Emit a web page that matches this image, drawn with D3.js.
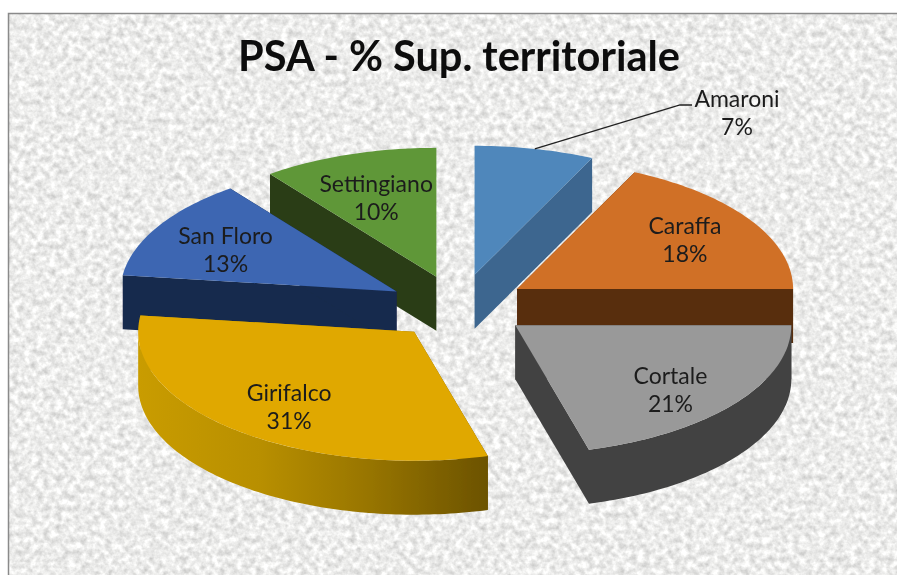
<!DOCTYPE html>
<html>
<head>
<meta charset="utf-8">
<script src="https://cdn.jsdelivr.net/npm/d3@7/dist/d3.min.js"></script>
<style>
html,body{margin:0;padding:0;background:#fff;overflow:hidden}
svg{display:block}
text{font-family:Lato,"Open Sans",sans-serif}
</style>
</head>
<body>
<svg id="chart" width="897" height="575"></svg>
<script>
// ---- data ----
const chartTitle = "PSA - % Sup. territoriale";
const categories = ["Amaroni", "Caraffa", "Cortale", "Girifalco", "San Floro", "Settingiano"];
const shares = [7, 18, 20.7, 31.3, 12.7, 10.3];

// ---- styles / layout ----
const topColors  = ["#4f87bb", "#d07028", "#999999", "#e0a800", "#3c66b2", "#5f9739"];
const sideColors = ["#3c668f", "#592d10", "#434343", "url(#giriSide)", "#172a4d", "#2a3e18"];
const explode    = [76, 70, 72, 67, 71, 68];
const sliceDy    = [1.5, -1.5, -3, 0, 0, -1];
const labelDx    = [0, 0, -3, 5, 1, 3];
const labelDy    = [0, -3, 4, 1, 1, 5];
const drawOrder  = [0, 5, 4, 1, 2, 3];
const W = 897, H = 575, cx = 458, cy = 308, rx = 276, ry = 129, depth = 54;
const labelRadius = 0.72, labelDrop = 4;

const svg = d3.select("#chart");
const defs = svg.append("defs");

const marble = defs.append("filter").attr("id", "marble")
  .attr("x", 0).attr("y", 0).attr("width", 1).attr("height", 1)
  .attr("color-interpolation-filters", "sRGB");
marble.append("feTurbulence").attr("type", "fractalNoise")
  .attr("baseFrequency", 0.16).attr("numOctaves", 3).attr("seed", 7);
marble.append("feColorMatrix").attr("type", "matrix")
  .attr("values", "0.34 0 0 0 0.755  0.34 0 0 0 0.755  0.34 0 0 0 0.75  0 0 0 0 1");

const soft = defs.append("filter").attr("id", "soft")
  .attr("x", "-5%").attr("y", "-5%").attr("width", "110%").attr("height", "110%");
soft.append("feGaussianBlur").attr("stdDeviation", 0.45);

const grad = defs.append("linearGradient").attr("id", "giriSide")
  .attr("gradientUnits", "userSpaceOnUse")
  .attr("x1", 138).attr("x2", 487).attr("y1", 0).attr("y2", 0);
[[0, "#c99c00"], [0.35, "#b88f00"], [0.65, "#997600"], [1, "#6c5300"]].forEach(([o, c]) =>
  grad.append("stop").attr("offset", o).attr("stop-color", c));

// background
svg.append("rect").attr("x", 8).attr("y", 13).attr("width", W - 8).attr("height", H - 13)
  .attr("filter", "url(#marble)");
svg.append("path").attr("d", `M8.5,${H}V13.5H${W}`).attr("fill", "none")
  .attr("stroke", "#8a8a8a").attr("stroke-width", 1.5);

// scales: unit circle -> flattened pie plane
const sx = d3.scaleLinear().domain([-1, 1]).range([-rx, rx]);
const sy = d3.scaleLinear().domain([-1, 1]).range([ry, -ry]);
const pct = d3.format(".0f");

const pieGen = d3.pie().sort(null).value(d => d);
const arcs = pieGen(shares).map((a, i) => {
  const mid = (a.startAngle + a.endAngle) / 2;
  return {
    i, name: categories[i], value: shares[i],
    a0: a.startAngle, a1: a.endAngle, mid,
    ax: cx + sx(Math.sin(mid)) * explode[i] / rx,
    ay: cy + sy(Math.cos(mid)) * explode[i] / rx + sliceDy[i]
  };
});

const pt = (d, a, lift = 0) => [d.ax + sx(Math.sin(a)), d.ay + sy(Math.cos(a)) + lift];
const angles = (a0, a1) => {
  const n = Math.max(2, Math.ceil((a1 - a0) / 0.02));
  return d3.range(n + 1).map(k => a0 + (a1 - a0) * k / n);
};
const line = d3.line();

const g = svg.append("g").attr("filter", "url(#soft)");

drawOrder.forEach(i => {
  const d = arcs[i], s = g.append("g");
  const apexTop = [d.ax, d.ay], apexBot = [d.ax, d.ay + depth];
  // radial walls
  [d.a0, d.a1].forEach(a => {
    s.append("path")
      .attr("d", line([apexTop, pt(d, a), pt(d, a, depth), apexBot]) + "Z")
      .attr("fill", sideColors[i]);
  });
  // outer wall: only the part that faces the viewer
  const lo = Math.max(d.a0, Math.PI / 2), hi = Math.min(d.a1, 3 * Math.PI / 2);
  if (hi > lo) {
    const as = angles(lo, hi);
    s.append("path")
      .attr("d", line(as.map(a => pt(d, a)).concat(as.slice().reverse().map(a => pt(d, a, depth)))) + "Z")
      .attr("fill", sideColors[i]);
  }
  // top face
  s.append("path")
    .attr("d", line([apexTop].concat(angles(d.a0, d.a1).map(a => pt(d, a)))) + "Z")
    .attr("fill", topColors[i]);
});

// title
g.append("text").attr("x", 459).attr("y", 71).attr("text-anchor", "middle")
  .attr("font-size", 41.5).attr("font-weight", 700).attr("fill", "#0c0c0c").text(chartTitle);

// labels
const labelG = g.append("g").attr("font-size", 23).attr("fill", "#1c1c1c").attr("text-anchor", "middle");
arcs.forEach(d => {
  let x, y;
  if (d.i === 0) {
    x = 737; y = 113;
    const outer = pt(d, d.mid);
    labelG.append("path")
      .attr("d", line([outer, [680, 105], [692, 105]]))
      .attr("fill", "none").attr("stroke", "#222").attr("stroke-width", 1.3);
  } else {
    x = d.ax + sx(Math.sin(d.mid)) * labelRadius + labelDx[d.i];
    y = d.ay + sy(Math.cos(d.mid)) * labelRadius + labelDrop + labelDy[d.i];
  }
  labelG.append("text").attr("x", x).attr("y", y - 6).text(d.name);
  labelG.append("text").attr("x", x).attr("y", y + 22).text(pct(d.value) + "%");
});
</script>
</body>
</html>
